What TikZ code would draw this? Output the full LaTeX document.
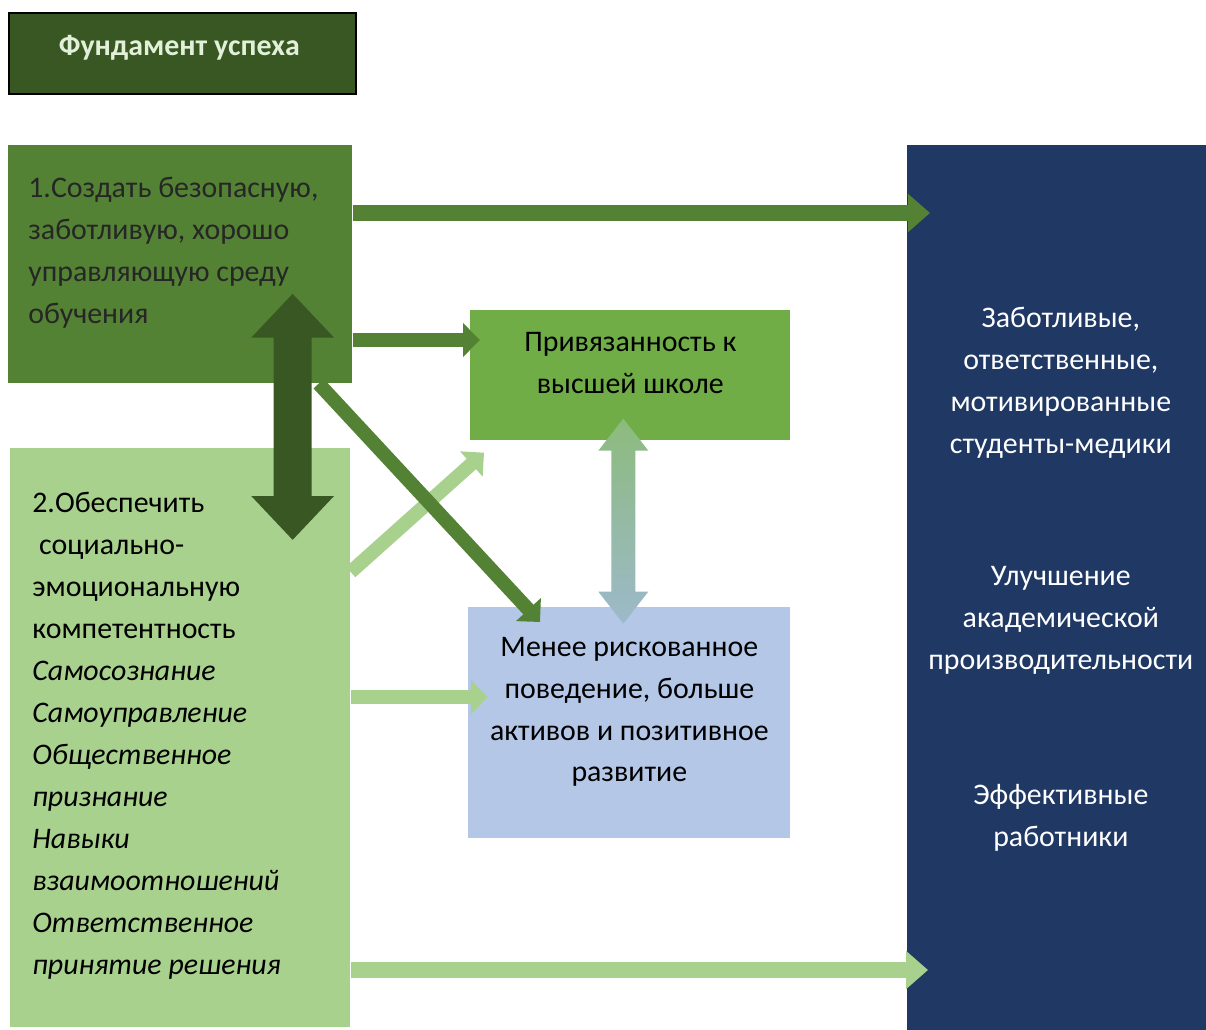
\documentclass[tikz,border=0pt]{standalone}
\usepackage{fontspec}
\setmainfont{Carlito}
\usetikzlibrary{arrows.meta,calc,positioning}

\definecolor{titlegreen}{HTML}{385723}
\definecolor{firstgreen}{HTML}{548235}
\definecolor{linkgreen}{HTML}{70AD47}
\definecolor{secondgreen}{HTML}{A9D18E}
\definecolor{riskblue}{HTML}{B4C7E7}
\definecolor{resultnavy}{HTML}{203864}
\definecolor{titletext}{HTML}{E2F0D9}
\definecolor{gradtop}{HTML}{8CBB7C}
\definecolor{gradbottom}{HTML}{9DB9CB}

\tikzset{
  box/.style={rectangle, inner sep=0pt, anchor=north west},
  txt/.style={inner sep=0pt, font=\fontsize{17}{23.9}\selectfont},
  arr/.style={line width=0.32cm, -{Triangle[width=0.74cm,length=0.44cm]}},
  thinarr/.style={line width=0.28cm, -{Triangle[width=0.66cm,length=0.34cm]}}
}

\begin{document}
\begin{tikzpicture}[x=0.02cm, y=-0.02cm]
			%\draw [help lines] (0,0) grid (1206,1030);
			\useasboundingbox (0,0) rectangle (1206,1030);
			% boxes
			\node[box, fill=titlegreen, draw=black, line width=1pt, minimum width=6.94cm, minimum height=1.62cm] (title) at (8,12) {};
			\node[box, fill=firstgreen, minimum width=6.88cm, minimum height=4.76cm] (b1) at (8,145) {};
			\node[box, fill=secondgreen, minimum width=6.8cm, minimum height=11.58cm] (b2) at (10,448) {};
			\node[box, fill=linkgreen, minimum width=6.4cm, minimum height=2.6cm] (prv) at (470,310) {};
			\node[box, fill=riskblue, minimum width=6.44cm, minimum height=4.62cm] (less) at (468,607) {};
			\node[box, fill=resultnavy, minimum width=5.98cm, minimum height=17.7cm] (rgt) at (907,145) {};
			% texts
			\node[txt, text=titletext, font=\fontsize{17}{23.9}\selectfont\bfseries] (titletxt) at ($(title.center)+(-3,-6)$) {Фундамент успеха};
			\node[txt, anchor=west, align=left, text=black!85] (b1txt) at ($(b1.north west)+(20,108)$)
				{1.Создать безопасную,\\заботливую, хорошо\\управляющую среду\\обучения};
			\node[txt, anchor=west, align=left] (b2txt) at ($(b2.north west)+(22,288)$)
				{2.Обеспечить\\\ социально-\\эмоциональную\\компетентность\\\textit{Самосознание}\\\textit{Самоуправление}\\\textit{Общественное}\\\textit{признание}\\\textit{Навыки}\\\textit{взаимоотношений}\\\textit{Ответственное}\\\textit{принятие решения}};
			\node[txt, align=center] (prvtxt) at ($(prv.center)+(0,-12)$) {Привязанность к\\высшей школе};
			\node[txt, align=center] (lesstxt) at ($(less.center)+(0,-11)$)
				{Менее рискованное\\поведение, больше\\активов и позитивное\\развитие};
			\node[txt, align=center, text=white] (res1) at ($(rgt.north)+(4,238)$)
				{Заботливые,\\ответственные,\\мотивированные\\студенты-медики};
			\node[txt, align=center, text=white] (res2) at ($(rgt.north)+(4,475)$)
				{Улучшение\\академической\\производительности};
			\node[txt, align=center, text=white] (res3) at ($(rgt.north)+(4,673)$)
				{Эффективные\\работники};
			% arrows
			\draw[arr, firstgreen] ($(b1.north east)+(0,68)$) -- ($(rgt.north west)+(23,68)$);
			\draw[thinarr, firstgreen] ($(b1.north east)+(0,195)$) -- ($(prv.north west)+(10,30)$);
			\draw[thinarr, secondgreen] ($(b2.north east)+(0,124)$) -- ($(prv.south west)+(14,12)$);
			\draw[thinarr, firstgreen] ($(b1.south east)+(-34,0)$) -- ($(less.north west)+(72,15)$);
			\draw[line width=0.76cm, titlegreen, {Triangle[width=1.6cm,length=0.88cm]}-{Triangle[width=1.6cm,length=0.88cm]}]
				($(b1.south east)+(-60,-90)$) -- ($(b2.north east)+(-58,92)$);
			\draw[thinarr, secondgreen] ($(b2.north east)+(0,249)$) -- ($(less.north west)+(20,90)$);
			\draw[arr, secondgreen] ($(b2.north east)+(0,522)$) -- ($(rgt.north west)+(21,825)$);
			\shade[top color=gradtop, bottom color=gradbottom] ($(prv.south)+(-7,-22)$) -- ++(25,32) -- ++(-13,0) -- ++(0,141)
				-- ++(13,0) -- ++(-25,32) -- ++(-25,-32) -- ++(13,0) -- ++(0,-141) -- ++(-13,0) -- cycle;
	\end{tikzpicture}
\end{document}
